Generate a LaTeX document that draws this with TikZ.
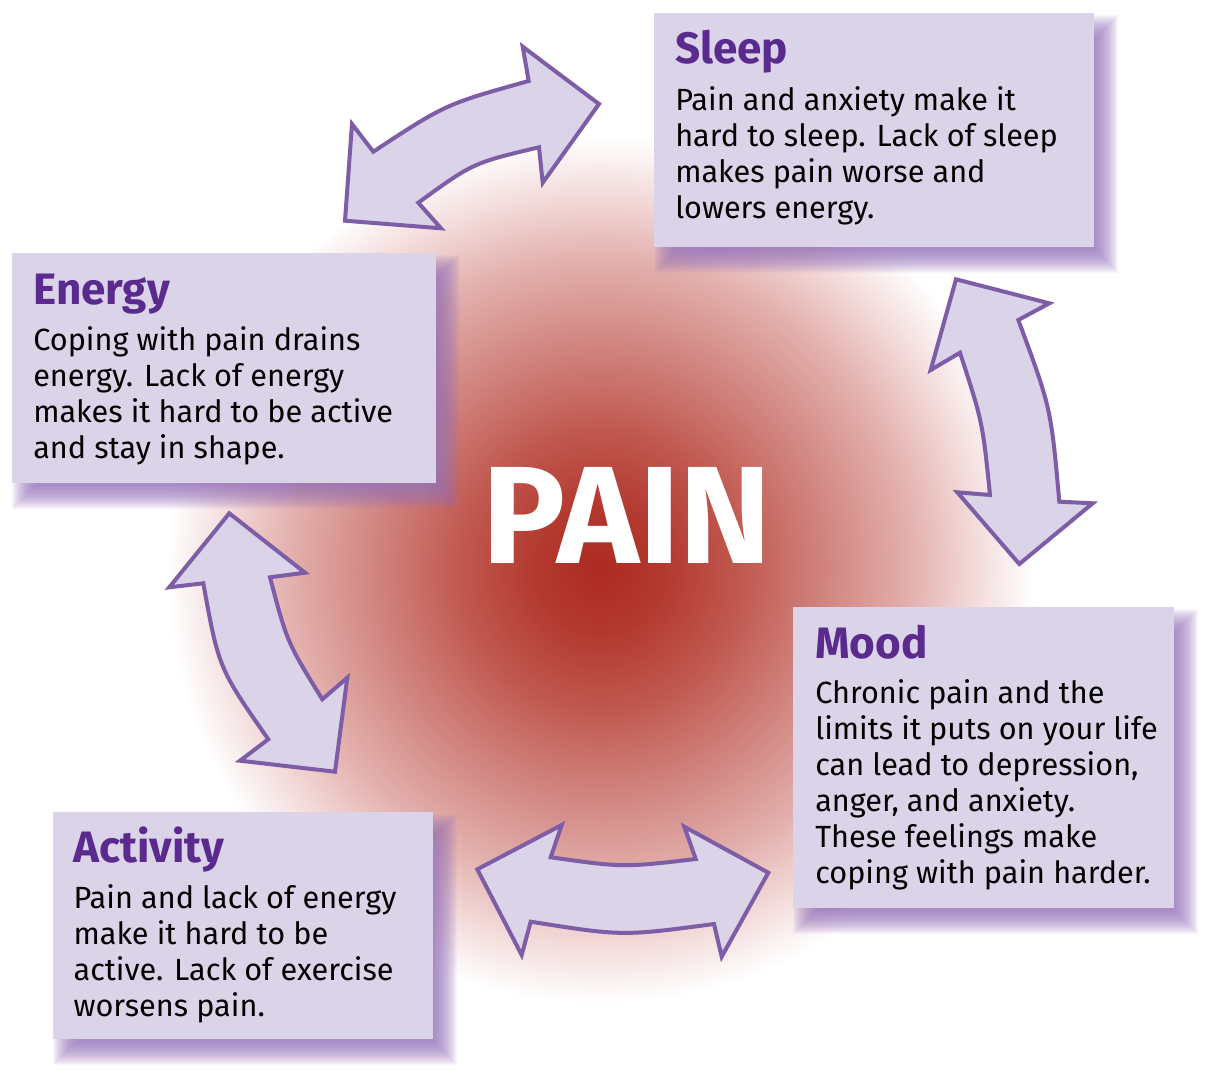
\documentclass[tikz,border=0pt]{standalone}
\usepackage{fontspec}
\setmainfont{Fira Sans}
\definecolor{boxfill}{HTML}{DBD3E7}
\definecolor{arrowline}{HTML}{7E5DA7}
\definecolor{titlecol}{HTML}{5B2A8E}
\definecolor{shadowc}{HTML}{9874BC}
\definecolor{glowA}{HTML}{AD2A21}
\definecolor{glowB}{HTML}{B3382E}
\definecolor{glowC}{HTML}{C0584F}
\definecolor{glowD}{HTML}{D1847F}
\definecolor{glowE}{HTML}{E3B1AE}
\definecolor{glowF}{HTML}{F2D9D8}
\pgfdeclareradialshading{painglow}{\pgfpoint{0bp}{0bp}}{%
  color(0bp)=(glowA);color(3.5bp)=(glowB);color(8bp)=(glowC);color(13bp)=(glowD);%
  color(18bp)=(glowE);color(21.5bp)=(glowF);color(25bp)=(white);color(50bp)=(white)}
\newcommand\softshadow[4]{%
  \foreach \k in {0,...,24}{%
    \fill[shadowc,fill opacity=0.06] (#1+24-\k,#2+26-\k) rectangle (#3+\k,#4+2+\k);}}
\tikzset{
  box/.style 2 args={fill=boxfill, draw=none, inner sep=0pt, minimum width={#1*0.75pt}, minimum height={#2*0.75pt}},
  title/.style={anchor=base west, inner sep=0pt, text=titlecol, font=\fontsize{33pt}{36pt}\selectfont\bfseries},
  body/.style={anchor=base west, inner sep=0pt, align=left, font=\fontsize{23pt}{27pt}\selectfont},
  bigarrow/.style={fill=boxfill, draw=arrowline, line width=3pt, line join=miter}
}
\begin{document}
\begin{tikzpicture}[x=0.75pt,y=-0.75pt]
\useasboundingbox (0,0) rectangle (1211,1077);
\fill[white] (0,0) rectangle (1211,1077);
% glow
\shade[shading=painglow] (600,570) circle [radius=325pt];
% arrows
\path[bigarrow] (599,104) -- (522.7,46.7) -- (528.7,81) .. controls (445.5,104.2) .. (373.3,151.7) -- (352,124) -- (345,220.7) -- (441,228.3) -- (418.3,202.7) .. controls (473,162.9) .. (539,147.3) -- (542.7,182.7) -- cycle;
\path[bigarrow] (956,279.3) -- (1049.3,303.3) -- (1018.3,320) .. controls (1051,408.1) .. (1059.3,501.7) -- (1092.7,503.3) -- (1019.3,564) -- (957.3,492.3) -- (990,495) .. controls (982.6,422.2) .. (960,352.7) -- (930.7,370) -- cycle;
\path[bigarrow] (477.3,869.3) -- (561.7,825) -- (550.7,857.3) .. controls (623.2,867.5) .. (695.7,859) -- (684.3,826.7) -- (768.3,872.7) -- (721.7,956.7) -- (714,924) .. controls (622.35,936.2) .. (530.7,921.7) -- (521.7,955) -- cycle;
\path[bigarrow] (229.3,513.3) -- (305,572.7) -- (270,577.3) .. controls (287.1,642.2) .. (322.3,699.3) -- (347.3,677.7) -- (335,771.7) -- (240,760.7) -- (268.3,739.3) .. controls (218.8,668.4) .. (203.3,583.3) -- (169.3,587.3) -- cycle;
% PAIN
\node[anchor=base, inner sep=0pt, text=white, font=\fontsize{104pt}{110pt}\selectfont\bfseries] (pain) at (627,563) {PAIN};
% shadows
\softshadow{654}{13}{1094}{247}
\softshadow{12}{253}{436}{483}
\softshadow{793}{607}{1174}{908}
\softshadow{53}{812}{433}{1039}
% boxes
\node[box={440}{234}] (sleep) at (874,130) {};
\node[box={424}{230}] (energy) at (224,368) {};
\node[box={381}{301}] (mood) at (983.5,757.5) {};
\node[box={380}{227}] (activity) at (243,925.5) {};
% texts (body nodes anchored at the baseline of their last line)
\node[title] (sleepT) at (675,63.3) {Sleep};
\node[body] (sleepB) at (675,218.7) {Pain and anxiety make it\\hard to sleep. Lack of sleep\\makes pain worse and\\lowers energy.};
\node[title] (energyT) at (33,305) {Energy};
\node[body] (energyB) at (33,458.7) {Coping with pain drains\\energy. Lack of energy\\makes it hard to be active\\and stay in shape.};
\node[title] (moodT) at (815,658.3) {Mood};
\node[body] (moodB) at (815,883.3) {Chronic pain and the\\limits it puts on your life\\can lead to depression,\\anger, and anxiety.\\These feelings make\\coping with pain harder.};
\node[title] (activityT) at (73.3,862.7) {Activity};
\node[body] (activityB) at (73.3,1016.3) {Pain and lack of energy\\make it hard to be\\active. Lack of exercise\\worsens pain.};
\end{tikzpicture}
\end{document}
